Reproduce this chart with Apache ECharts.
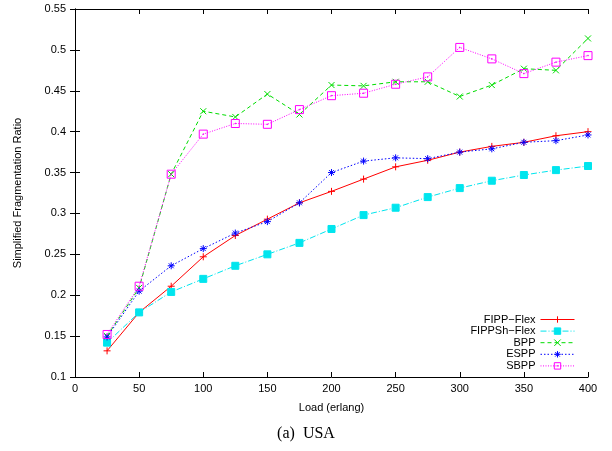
<!DOCTYPE html>
<html><head><meta charset="utf-8">
<script src="https://cdn.jsdelivr.net/npm/echarts@6/dist/echarts.min.js"></script>
<style>html,body{margin:0;padding:0;background:#fff}#c{width:612px;height:451px}</style>
</head><body><div id="c"></div>
<script>
const loads = [25,50,75,100,125,150,175,200,225,250,275,300,325,350,375,400];
const fippFlex   = [0.132,0.179,0.211,0.247,0.273,0.293,0.313,0.327,0.342,0.357,0.365,0.375,0.382,0.387,0.395,0.400];
const fippShFlex = [0.142,0.179,0.204,0.220,0.236,0.250,0.264,0.281,0.298,0.307,0.320,0.331,0.340,0.347,0.353,0.358];
const bpp        = [0.150,0.209,0.348,0.425,0.418,0.446,0.421,0.457,0.456,0.461,0.461,0.443,0.457,0.477,0.475,0.514];
const espp       = [0.149,0.205,0.236,0.257,0.276,0.290,0.313,0.350,0.364,0.368,0.367,0.375,0.379,0.387,0.389,0.396];
const sbpp       = [0.152,0.211,0.348,0.397,0.410,0.409,0.427,0.444,0.447,0.458,0.467,0.503,0.489,0.471,0.485,0.493];
const seriesNames = ['FIPP\u2212Flex','FIPPSh\u2212Flex','BPP','ESPP','SBPP'];
const seriesColors = ['#ff0000','#00e5ee','#00dd00','#0000ff','#ff00ff'];
const xLabel = 'Load (erlang)';
const yLabel = 'Simplified Fragmentation Ratio';
const caption = '(a)  USA';

const pair = arr => loads.map((x,i)=>[x,arr[i]]);
const font = 'Liberation Sans, Arial, sans-serif';

const chart = echarts.init(document.getElementById('c'), null, {renderer:'canvas'});
const axisCommon = {
  axisLine:{show:true,lineStyle:{color:'#000',width:1}},
  axisTick:{show:true,inside:true,length:5,lineStyle:{color:'#000'}},
  splitLine:{show:false}
};
const dashes = ['solid',[6,2,1,2],[4,3],[1.5,2],[1,1.5]];
const filledFlags = [false,true,false,false,false];
function mkSeries(i, data, symbol, size){
  const color = seriesColors[i];
  return {
    name:seriesNames[i], type:'line', data:pair(data), symbol, symbolSize:size,
    showSymbol:true,
    lineStyle:{color, width:1, type:dashes[i]},
    itemStyle:{color: filledFlags[i]?color:'rgba(0,0,0,0)', borderColor:color, borderWidth:1},
    emphasis:{disabled:true},
    animation:false
  };
}
const plus = 'path://M0,5L10,5M5,0L5,10';
const cross = 'path://M0,0L10,10M10,0L0,10';
const star = 'path://M0,5L10,5M5,0L5,10M1.5,1.5L8.5,8.5M8.5,1.5L1.5,8.5';
const sq = 'path://M0,0L10,0L10,10L0,10Z';
const opensq = 'path://M0,0L10,0L10,10L0,10ZM4.6,4.6L5.4,4.6L5.4,5.4L4.6,5.4Z';

chart.setOption({
  animation:false,
  backgroundColor:'#fff',
  grid:{left:75,right:24,top:9,bottom:74,containLabel:false},
  title:{text:caption,left:'center',top:421,textStyle:{fontFamily:'Liberation Serif, Times New Roman, serif',fontSize:16,fontWeight:'normal',color:'#000'}},
  legend:{
    orient:'vertical', right:32, top:309, align:'right',
    itemWidth:34, itemHeight:8, itemGap:0.6,
    textStyle:{fontFamily:font,fontSize:11,color:'#000',lineHeight:11},
    data:seriesNames.map((n,i)=>({name:n,
      lineStyle:{color:seriesColors[i],width:1,type:dashes[i]},
      itemStyle:{color:filledFlags[i]?seriesColors[i]:'rgba(0,0,0,0)',borderColor:seriesColors[i],borderWidth:1}})),
    selectedMode:false
  },
  xAxis:[
    Object.assign({type:'value',min:0,max:400,interval:50,position:'bottom',
      name:xLabel,nameLocation:'middle',nameGap:25,
      nameTextStyle:{fontFamily:font,fontSize:11,color:'#000'},
      axisLabel:{fontFamily:font,fontSize:11,color:'#000',margin:6}},axisCommon),
    Object.assign({type:'value',min:0,max:400,interval:50,position:'top',axisLabel:{show:false}},axisCommon)
  ],
  yAxis:[
    Object.assign({type:'value',min:0.1,max:0.55,interval:0.05,position:'left',
      name:yLabel,nameLocation:'middle',nameGap:52,nameRotate:90,
      nameTextStyle:{fontFamily:font,fontSize:11,color:'#000'},
      axisLabel:{fontFamily:font,fontSize:11,color:'#000',margin:9}},axisCommon),
    Object.assign({type:'value',min:0.1,max:0.55,interval:0.05,position:'right',axisLabel:{show:false}},axisCommon)
  ],
  series:[
    mkSeries(0, fippFlex, plus, 7),
    mkSeries(1, fippShFlex, sq, 7),
    mkSeries(2, bpp, cross, 6),
    mkSeries(3, espp, star, 7),
    mkSeries(4, sbpp, opensq, 8)
  ]
});
</script></body></html>
